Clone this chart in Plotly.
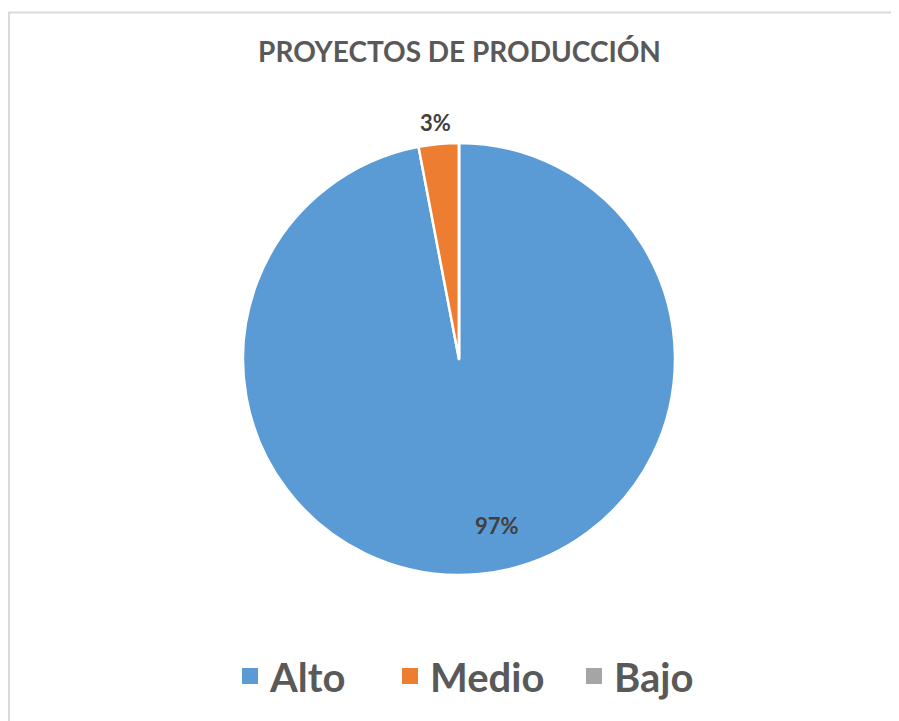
import plotly.graph_objects as go

categories = ["Alto", "Medio", "Bajo"]
values = [97, 3, 0]
colors = ["#5B9BD5", "#ED7D31", "#A5A5A5"]
title_text = "PROYECTOS DE PRODUCCIÓN"

# The page adds an 8px body margin, so the figure is drawn in 891x713 px
W, H = 891, 713
total = sum(values)

cx, cy, r = 451, 351, 216  # pie centre and radius in figure pixels

fig = go.Figure()
fig.add_trace(go.Pie(
    labels=categories,
    values=values,
    sort=False,
    direction="clockwise",
    rotation=0,
    marker=dict(colors=colors, line=dict(color="white", width=2.5)),
    textinfo="none",
    hoverinfo="label+percent",
    domain=dict(x=[(cx - r) / W, (cx + r) / W], y=[1 - (cy + r) / H, 1 - (cy - r) / H]),
    showlegend=False,
))

# legend entries (one legend per entry so each can be placed like the original)
legend_names = ["legend", "legend2", "legend3"]
legend_x = [222, 382, 566]
for cat, col, lg in zip(categories, colors, legend_names):
    fig.add_trace(go.Scatter(
        x=[None], y=[None], mode="markers", name=cat, legend=lg,
        marker=dict(symbol="square", size=17, color=col, line=dict(width=0)),
        hoverinfo="skip", showlegend=True,
    ))

# percentage labels (text computed from the data)
label_pos = {"Alto": (489, 517), "Medio": (427, 115)}
for cat, v in zip(categories, values):
    if cat in label_pos:
        px, py = label_pos[cat]
        fig.add_annotation(
            x=px / W, y=1 - py / H, xref="paper", yref="paper",
            xanchor="center", yanchor="middle",
            text=f"<b>{round(100 * v / total)}%</b>", showarrow=False,
            font=dict(family="Lato", size=22, color="#404040"),
        )

legend_font = dict(family="Lato", size=40, color="#595959", weight="bold")
legend_common = dict(orientation="h", xanchor="left", yanchor="middle",
                     y=1 - 668 / H, font=legend_font, itemsizing="trace",
                     bgcolor="rgba(0,0,0,0)")

fig.update_layout(
    width=W, height=H,
    margin=dict(l=0, r=0, t=0, b=0),
    paper_bgcolor="white",
    plot_bgcolor="white",
    xaxis=dict(visible=False),
    yaxis=dict(visible=False),
    title=dict(text=f"<b>{title_text}</b>", x=451.5 / W, xanchor="center",
               y=1 - 44 / H, yanchor="middle",
               font=dict(family="Lato", size=28, color="#595959")),
    legend=dict(x=legend_x[0] / W, **legend_common),
    legend2=dict(x=legend_x[1] / W, **legend_common),
    legend3=dict(x=legend_x[2] / W, **legend_common),
    shapes=[dict(type="rect", xref="paper", yref="paper",
                 x0=1 / W, x1=1.02, y0=-0.02, y1=1 - 4.5 / H,
                 line=dict(color="#D9D9D9", width=2))],
)

fig.write_html("out.html")
